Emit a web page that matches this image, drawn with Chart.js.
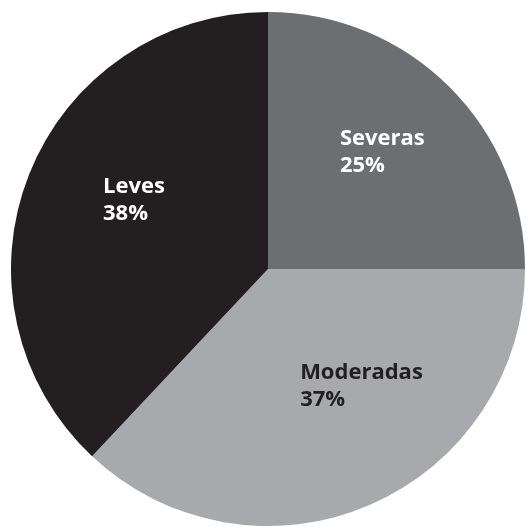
<!DOCTYPE html>
<html>
<head>
<meta charset="utf-8">
<script src="https://cdn.jsdelivr.net/npm/chart.js@4/dist/chart.umd.min.js"></script>
<style>
  html, body { margin: 0; padding: 0; background: #fff; }
  #wrap { width: 526px; height: 527px; position: relative; }
</style>
</head>
<body>
<div id="wrap"><canvas id="chart"></canvas></div>
<script>
// datos del gráfico
const categorias = ['Severas', 'Moderadas', 'Leves'];
const porcentajes = [25, 37, 38];
const colores = ['#6d6e71', '#a7a9ac', '#231f20'];
const coloresTexto = ['#ffffff', '#231f20', '#ffffff'];

// posición de cada etiqueta, relativa al centro y en fracción del radio
const posEtiquetas = [
    { dx: 0.280, dy: -0.482 },
    { dx: 0.125, dy: 0.428 },
    { dx: -0.642, dy: -0.296 }
];

const etiquetasPlugin = {
    id: 'etiquetas',
    afterDatasetsDraw(chart) {
        const c = chart.ctx;
        const meta = chart.getDatasetMeta(0);
        c.save();
        c.font = 'bold 22px "Open Sans", sans-serif';
        c.textAlign = 'left';
        c.textBaseline = 'alphabetic';
        meta.data.forEach((arc, i) => {
            const r = arc.outerRadius;
            const x = arc.x + posEtiquetas[i].dx * r;
            const y = arc.y + posEtiquetas[i].dy * r;
            c.fillStyle = coloresTexto[i];
            c.fillText(categorias[i], x, y);
            c.fillText(porcentajes[i] + '%', x, y + 27);
        });
        c.restore();
    }
};

document.addEventListener('DOMContentLoaded', () => {
    const ctx = document.getElementById('chart');
    if (!ctx) {
        console.error('no se encontró <canvas id="chart">');
        return;
    }

    new Chart(ctx, {
        type: 'pie',
        data: {
            labels: categorias,
            datasets: [{
                data: porcentajes,
                backgroundColor: colores,
                borderWidth: 0
            }]
        },
        options: {
            responsive: true,
            maintainAspectRatio: false,
            animation: false,
            layout: { padding: { left: 11, top: 12, right: 1, bottom: 1 } },
            plugins: {
                legend: { display: false },
                tooltip: { enabled: false }
            }
        },
        plugins: [etiquetasPlugin]
    });
});
</script>
</body>
</html>
